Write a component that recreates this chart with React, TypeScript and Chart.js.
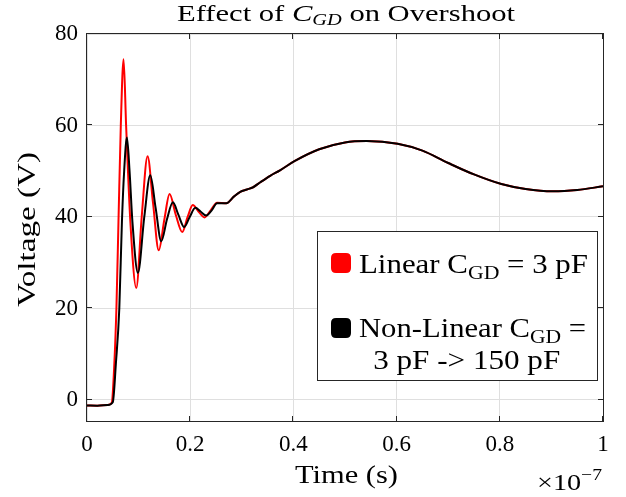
import React, { useEffect, useRef } from "react";
import { Chart, registerables } from "chart.js";

Chart.register(...registerables);

// ---- Data (time in units of 1e-7 s, voltage in V) ----
const timeLinear = [
  0, 0.02, 0.04, 0.048, 0.053, 0.057, 0.061, 0.0655, 0.0709, 0.0758, 0.084,
  0.0955, 0.106, 0.1174, 0.128, 0.139, 0.15, 0.16, 0.172, 0.1845, 0.195,
  0.205, 0.216, 0.2277, 0.24, 0.252, 0.27, 0.285, 0.297, 0.31, 0.322, 0.336,
  0.355, 0.374, 0.402, 0.45, 0.5, 0.542, 0.602, 0.65, 0.7, 0.75, 0.803, 0.85,
  0.903, 0.95, 1.0,
];
const voltLinear = [
  -1.2, -1.25, -1.1, -0.6, 8, 20, 39, 60, 74.5, 60, 39,
  24.5, 40, 53.3, 43, 32.7, 39.5, 45, 40.5, 36.7, 40,
  42.6, 41.2, 39.9, 41.5, 43.1, 43, 44.5, 45.5, 46, 46.5, 47.6,
  49, 50.2, 52.2, 54.8, 56.3, 56.6, 56.0, 54.5, 51.8, 49.3, 47.2, 46.1,
  45.6, 45.9, 46.7,
];
const timeNonLinear = [
  0, 0.02, 0.04, 0.05, 0.056, 0.0626, 0.0677, 0.072, 0.0774, 0.0825, 0.088,
  0.0987, 0.111, 0.1226, 0.133, 0.1439, 0.155, 0.1665, 0.177, 0.1884, 0.199,
  0.21, 0.22, 0.231, 0.242, 0.252, 0.27, 0.285, 0.297, 0.31, 0.322, 0.336,
  0.355, 0.374, 0.402, 0.45, 0.5, 0.542, 0.602, 0.65, 0.7, 0.75, 0.803, 0.85,
  0.903, 0.95, 1.0,
];
const voltNonLinear = [
  -1.2, -1.25, -1.1, -0.5, 8, 20, 39, 50, 57.4, 50, 39,
  27.8, 40, 49.1, 42, 34.7, 39.5, 43.2, 40.5, 37.8, 40,
  42.0, 41.2, 40.3, 41.5, 43.0, 43, 44.5, 45.5, 46, 46.5, 47.6,
  49, 50.2, 52.2, 54.8, 56.3, 56.6, 56.0, 54.5, 51.8, 49.3, 47.2, 46.1,
  45.6, 45.9, 46.7,
];
const xTicks = [0, 0.2, 0.4, 0.6, 0.8, 1];
const yTicks = [0, 20, 40, 60, 80];
const seriesColors = ["#ff0000", "#000000"];

const titleParts = ["Effect of ", "C", "GD", " on Overshoot"];
const xLabel = "Time (s)";
const yLabel = "Voltage (V)";
const xExponent = ["\u00d710", "\u22127"];
const legendLine1 = ["Linear C", "GD", " = 3 pF"];
const legendLine2 = ["Non-Linear C", "GD", " ="];
const legendLine3 = "3 pF -> 150 pF";

const SERIF = "'Liberation Serif', 'Times New Roman', serif";
const AXIS = "#262626";

type Part = { text: string; font: string; dy?: number };

// draws mixed-font text; optional target width stretches it horizontally
function drawRich(
  ctx: CanvasRenderingContext2D,
  parts: Part[],
  x: number,
  y: number,
  align: "left" | "center" | "right",
  target?: number
) {
  let total = 0;
  const widths = parts.map((p) => {
    ctx.font = p.font;
    const w = ctx.measureText(p.text).width;
    total += w;
    return w;
  });
  const sx = target ? target / total : 1;
  const full = total * sx;
  const start = align === "left" ? x : align === "center" ? x - full / 2 : x - full;
  ctx.save();
  ctx.translate(start, y);
  ctx.scale(sx, 1);
  ctx.textAlign = "left";
  ctx.textBaseline = "alphabetic";
  let cx = 0;
  parts.forEach((p, i) => {
    ctx.font = p.font;
    ctx.fillText(p.text, cx, p.dy || 0);
    cx += widths[i];
  });
  ctx.restore();
  return full;
}

function roundRect(ctx: CanvasRenderingContext2D, x: number, y: number, w: number, h: number, r: number) {
  ctx.beginPath();
  ctx.moveTo(x + r, y);
  ctx.lineTo(x + w - r, y);
  ctx.quadraticCurveTo(x + w, y, x + w, y + r);
  ctx.lineTo(x + w, y + h - r);
  ctx.quadraticCurveTo(x + w, y + h, x + w - r, y + h);
  ctx.lineTo(x + r, y + h);
  ctx.quadraticCurveTo(x, y + h, x, y + h - r);
  ctx.lineTo(x, y + r);
  ctx.quadraticCurveTo(x, y, x + r, y);
  ctx.closePath();
}

const overlay = {
  id: "overlay",
  afterDraw(chart: any) {
    const { ctx, chartArea, scales } = chart;
    const { left, top, right, bottom } = chartArea;
    const xs = scales.x;
    const ys = scales.y;
    ctx.save();

    // frame
    ctx.strokeStyle = AXIS;
    ctx.lineWidth = 1;
    ctx.strokeRect(left - 0.5, top - 0.5, right - left + 1, bottom - top + 1);

    // inward ticks
    ctx.beginPath();
    xTicks.forEach((v) => {
      const px = Math.round(xs.getPixelForValue(v)) - 0.5;
      ctx.moveTo(px, bottom);
      ctx.lineTo(px, bottom - 5);
      ctx.moveTo(px, top);
      ctx.lineTo(px, top + 5);
    });
    yTicks.forEach((v) => {
      const py = Math.round(ys.getPixelForValue(v)) - 0.5;
      ctx.moveTo(left, py);
      ctx.lineTo(left + 5, py);
      ctx.moveTo(right, py);
      ctx.lineTo(right - 5, py);
    });
    ctx.stroke();

    ctx.fillStyle = "#000";
    // title
    drawRich(
      ctx,
      [
        { text: titleParts[0], font: `24px ${SERIF}` },
        { text: titleParts[1], font: `italic 24px ${SERIF}` },
        { text: titleParts[2], font: `italic 16px ${SERIF}`, dy: 4 },
        { text: titleParts[3], font: `24px ${SERIF}` },
      ],
      346,
      21,
      "center",
      338
    );

    // axis labels
    drawRich(ctx, [{ text: xLabel, font: `26px ${SERIF}` }], 346.5, 483, "center", 103);
    ctx.save();
    ctx.translate(35, 229.5);
    ctx.rotate(-Math.PI / 2);
    drawRich(ctx, [{ text: yLabel, font: `26px ${SERIF}` }], 0, 0, "center", 155);
    ctx.restore();

    // x exponent
    drawRich(
      ctx,
      [
        { text: xExponent[0], font: `23px ${SERIF}` },
        { text: xExponent[1], font: `16px ${SERIF}`, dy: -10 },
      ],
      537,
      490,
      "left",
      65
    );

    // legend
    const lx = 317, ly = 231, lw = 280, lh = 149;
    ctx.fillStyle = "#fff";
    ctx.fillRect(lx, ly, lw, lh);
    ctx.strokeStyle = AXIS;
    ctx.lineWidth = 1;
    ctx.strokeRect(lx + 0.5, ly + 0.5, lw, lh);

    ctx.fillStyle = seriesColors[0];
    roundRect(ctx, 331, 253, 20, 20, 5);
    ctx.fill();
    ctx.fillStyle = seriesColors[1];
    roundRect(ctx, 331, 318, 20, 20, 5);
    ctx.fill();

    ctx.fillStyle = "#000";
    drawRich(
      ctx,
      [
        { text: legendLine1[0], font: `27px ${SERIF}` },
        { text: legendLine1[1], font: `19px ${SERIF}`, dy: 6 },
        { text: legendLine1[2], font: `27px ${SERIF}` },
      ],
      359,
      273,
      "left",
      229
    );
    drawRich(
      ctx,
      [
        { text: legendLine2[0], font: `27px ${SERIF}` },
        { text: legendLine2[1], font: `19px ${SERIF}`, dy: 6 },
        { text: legendLine2[2], font: `27px ${SERIF}` },
      ],
      359,
      337,
      "left",
      227
    );
    drawRich(ctx, [{ text: legendLine3, font: `27px ${SERIF}` }], 466.7, 369, "center", 187);

    ctx.restore();
  },
};

function fmt(v: number) {
  return Number(v).toFixed(1).replace(/\.0$/, "");
}

export default function App() {
  const ref = useRef<HTMLCanvasElement | null>(null);
  useEffect(() => {
    if (!ref.current) return;
    const tickFont = { family: SERIF, size: 23 };
    const chart = new Chart(ref.current, {
      type: "line",
      data: {
        datasets: [
          {
            label: "Linear",
            data: timeLinear.map((t, i) => ({ x: t, y: voltLinear[i] })),
            borderColor: seriesColors[0],
            backgroundColor: seriesColors[0],
            borderWidth: 2,
            pointRadius: 0,
            cubicInterpolationMode: "monotone",
            order: 1,
          },
          {
            label: "Non-Linear",
            data: timeNonLinear.map((t, i) => ({ x: t, y: voltNonLinear[i] })),
            borderColor: seriesColors[1],
            backgroundColor: seriesColors[1],
            borderWidth: 2,
            pointRadius: 0,
            cubicInterpolationMode: "monotone",
            order: 0,
          },
        ],
      },
      options: {
        responsive: false,
        animation: false,
        events: [],
        layout: { padding: { left: 0, top: 34, right: 23, bottom: 0 } },
        plugins: {
          legend: { display: false },
          tooltip: { enabled: false },
          title: { display: false },
        },
        scales: {
          x: {
            type: "linear",
            min: 0,
            max: 1,
            afterBuildTicks: (s: any) => {
              s.ticks = xTicks.map((v) => ({ value: v }));
            },
            afterFit: (s: any) => {
              s.height = 76;
            },
            grid: { color: "#dfdfdf", lineWidth: 1, drawTicks: false },
            border: { display: false },
            ticks: {
              font: tickFont,
              color: "#000",
              padding: 10,
              maxRotation: 0,
              autoSkip: false,
              callback: (v: any) => fmt(v),
            },
          },
          y: {
            type: "linear",
            min: -4.6,
            max: 80,
            afterBuildTicks: (s: any) => {
              s.ticks = yTicks.map((v) => ({ value: v }));
            },
            afterFit: (s: any) => {
              s.width = 87;
            },
            grid: { color: "#dfdfdf", lineWidth: 1, drawTicks: false },
            border: { display: false },
            ticks: {
              font: tickFont,
              color: "#000",
              padding: 9,
              autoSkip: false,
              callback: (v: any) => fmt(v),
            },
          },
        },
      } as any,
      plugins: [overlay],
    });
    return () => chart.destroy();
  }, []);

  return (
    <div style={{ position: "fixed", left: 0, top: 0, width: 626, height: 497, background: "#fff" }}>
      <canvas ref={ref} width={626} height={497} style={{ display: "block", width: 626, height: 497 }} />
    </div>
  );
}
